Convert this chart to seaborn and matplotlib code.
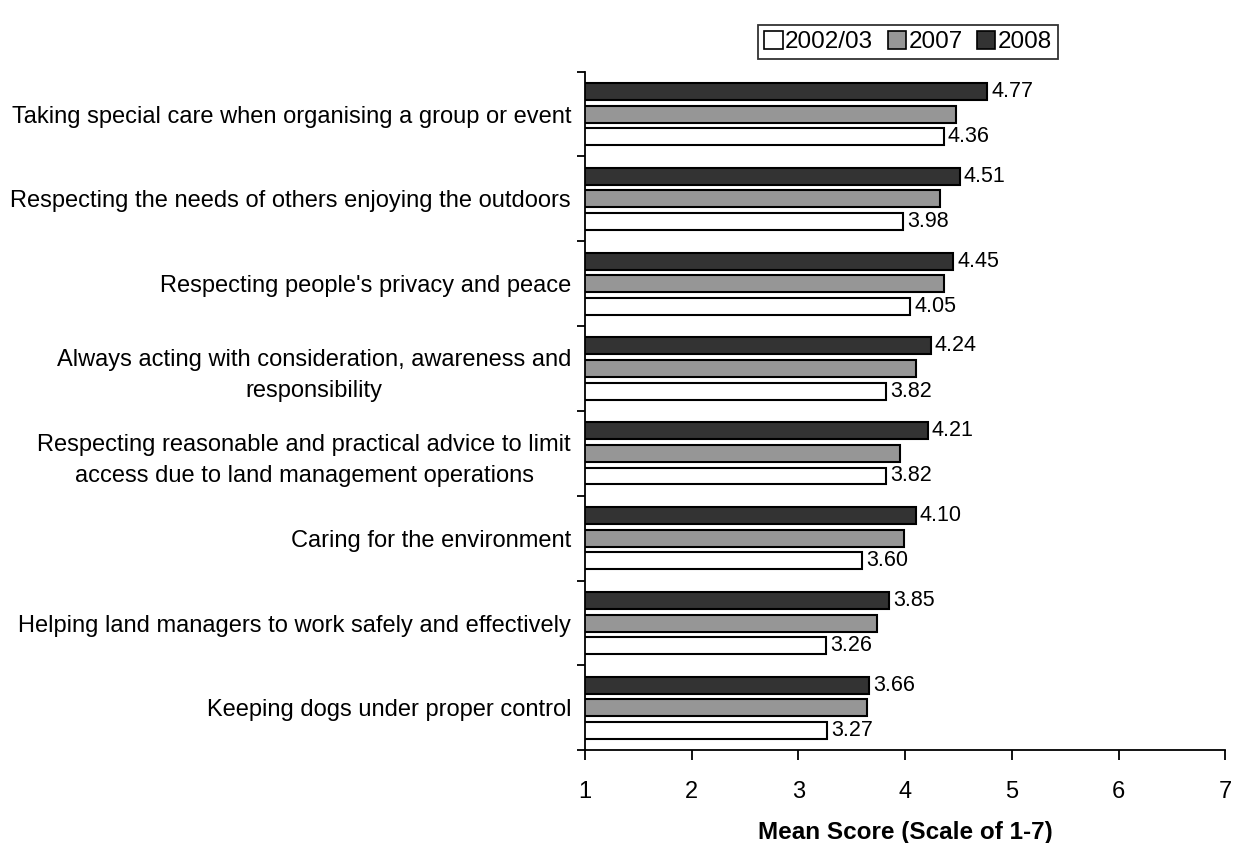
import numpy as np
import pandas as pd
import matplotlib.pyplot as plt
import seaborn as sns
from matplotlib.patches import Patch

categories = [
    "Taking special care when organising a group or event",
    "Respecting the needs of others enjoying the outdoors",
    "Respecting people's privacy and peace",
    "Always acting with consideration, awareness and\nresponsibility",
    "Respecting reasonable and practical advice to limit\naccess due to land management operations",
    "Caring for the environment",
    "Helping land managers to work safely and effectively",
    "Keeping dogs under proper control",
]
years = ["2002/03", "2007", "2008"]
scores_2002 = [4.36, 3.98, 4.05, 3.82, 3.82, 3.60, 3.26, 3.27]
scores_2007 = [4.48, 4.33, 4.36, 4.10, 3.95, 3.99, 3.74, 3.64]
scores_2008 = [4.77, 4.51, 4.45, 4.24, 4.21, 4.10, 3.85, 3.66]
colors = {"2002/03": "#ffffff", "2007": "#969696", "2008": "#333333"}

df = pd.DataFrame({
    "category": categories * 3,
    "year": ["2002/03"] * 8 + ["2007"] * 8 + ["2008"] * 8,
    "score": scores_2002 + scores_2007 + scores_2008,
})

sns.set_style("white")
plt.rcParams['font.family'] = ['Liberation Sans', 'DejaVu Sans']
plt.rcParams.update({"text.color": "black", "axes.labelcolor": "black",
                     "xtick.color": "black", "ytick.color": "black"})

fig = plt.figure(figsize=(12.34, 8.43), dpi=100)
ax = fig.add_axes([0.474, 0.110, 0.519, 0.805])

# 2008 on top of each group, 2002/03 at the bottom
hue_order = ["2008", "2007", "2002/03"]
sns.barplot(data=df, x="score", y="category", hue="year", hue_order=hue_order,
            palette=colors, orient="h", width=0.8, gap=0.25,
            edgecolor="black", linewidth=1.5, legend=False, ax=ax)

# value labels only on 2008 and 2002/03
for cont, yr in zip(ax.containers, hue_order):
    if yr != "2007":
        ax.bar_label(cont, fmt="%.2f", padding=3, fontsize=15.5)

ax.set_xlim(1, 7)
ax.set_ylim(len(categories) - 0.5, -0.5)
ax.set_xticks(range(1, 8))
ax.set_ylabel("")
ax.set_xlabel("Mean Score (Scale of 1-7)", fontsize=17.5, fontweight="bold", labelpad=13)

# tick marks between the groups, labels at the centres
ax.set_yticks(np.arange(-0.5, len(categories), 1.0), minor=True)
ax.tick_params(axis="y", which="major", length=0, pad=10, labelsize=17)
ax.tick_params(axis="y", which="minor", length=6, width=1.3, direction="out", left=True)
ax.tick_params(axis="x", length=7, width=1.3, direction="out", bottom=True, labelsize=17, pad=15)
for lbl in ax.get_yticklabels():
    lbl.set_multialignment("center")
    lbl.set_linespacing(1.55)

for side in ["top", "right"]:
    ax.spines[side].set_visible(False)
for side in ["left", "bottom"]:
    ax.spines[side].set_color("black")
    ax.spines[side].set_linewidth(1.3)

handles = [Patch(facecolor=colors[y], edgecolor="black", linewidth=1.2, label=y) for y in years]
leg = fig.legend(handles=handles, loc="upper center", bbox_to_anchor=(0.736, 0.985), ncol=3,
                 fontsize=17.5, frameon=True, fancybox=False, edgecolor="black",
                 handlelength=0.75, handleheight=0.75, handletextpad=0.1, columnspacing=0.6,
                 borderpad=0.25)
leg.get_frame().set_linewidth(1.3)

fig.savefig("out.png", dpi=100)
